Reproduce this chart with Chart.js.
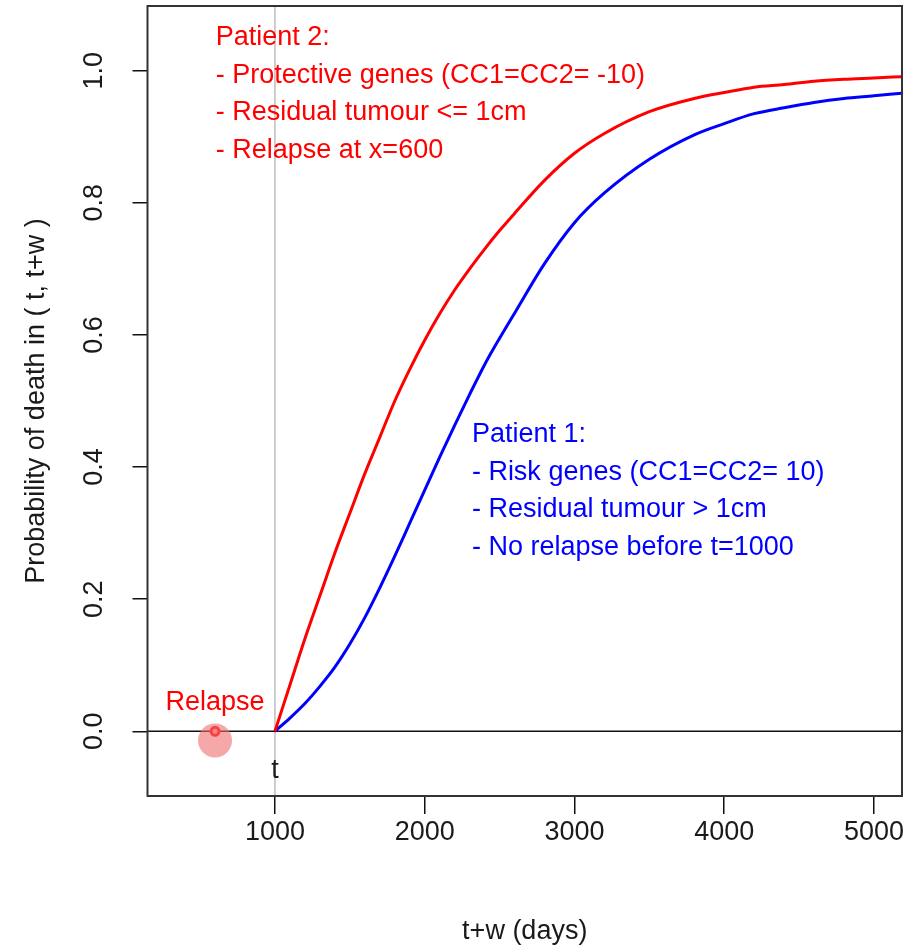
<!DOCTYPE html>
<html>
<head>
<meta charset="utf-8">
<script src="https://cdn.jsdelivr.net/npm/chart.js@4/dist/chart.umd.min.js"></script>
<style>
  html, body { margin: 0; padding: 0; background: #fff; }
  #wrap { width: 918px; height: 948px; }
</style>
</head>
<body>
<div id="wrap"><canvas id="c" width="918" height="948"></canvas></div>
<script>
// values
const days = [1000, 1100, 1200, 1300, 1400, 1500, 1600, 1700, 1800, 1900, 2000, 2100, 2200, 2300,
  2400, 2500, 2600, 2800, 3000, 3200, 3500, 3800, 4000, 4200, 4400, 4600, 4800, 5000, 5187];
const patient2 = [0, 0.07, 0.14, 0.205, 0.27, 0.33, 0.39, 0.445, 0.50, 0.548, 0.592, 0.632, 0.668, 0.70,
  0.73, 0.758, 0.784, 0.834, 0.875, 0.905, 0.938, 0.958, 0.967, 0.975, 0.979, 0.984, 0.987, 0.989, 0.991];
const patient1 = [0, 0.02, 0.042, 0.068, 0.097, 0.132, 0.172, 0.217, 0.265, 0.315, 0.365, 0.415, 0.463, 0.51,
  0.555, 0.595, 0.633, 0.708, 0.77, 0.815, 0.866, 0.903, 0.92, 0.935, 0.944, 0.952, 0.958, 0.962, 0.966];
const relapseDay = 600;
const xTicks = [1000, 2000, 3000, 4000, 5000];
const yTicks = [0, 0.2, 0.4, 0.6, 0.8, 1.0];
const yTickLabels = ['0.0', '0.2', '0.4', '0.6', '0.8', '1.0'];
const patient2Text = ['Patient 2:', '- Protective genes (CC1=CC2= -10)', '- Residual tumour <= 1cm', '- Relapse at x=600'];
const patient1Text = ['Patient 1:', '- Risk genes (CC1=CC2= 10)', '- Residual tumour > 1cm', '- No relapse before t=1000'];

const FONT = '"Liberation Sans", Arial, sans-serif';
const toPts = (xs, ys) => xs.map((x, i) => ({ x: x, y: ys[i] }));

// R style extras: box, reference lines, rotated y labels, text notes
const rExtras = {
    id: 'rExtras',
    beforeDatasetsDraw(chart) {
        const { ctx, chartArea: a, scales: { x, y } } = chart;
        ctx.save();
        ctx.beginPath();
        ctx.rect(a.left, a.top, a.right - a.left, a.bottom - a.top);
        ctx.clip();
        ctx.lineWidth = 1.5;
        ctx.strokeStyle = '#bdbdbd';
        ctx.beginPath();
        ctx.moveTo(x.getPixelForValue(1000), a.top);
        ctx.lineTo(x.getPixelForValue(1000), a.bottom);
        ctx.stroke();
        ctx.strokeStyle = '#111';
        ctx.beginPath();
        ctx.moveTo(a.left, y.getPixelForValue(0));
        ctx.lineTo(a.right, y.getPixelForValue(0));
        ctx.stroke();
        ctx.restore();
    },
    afterDraw(chart) {
        const { ctx, chartArea: a, scales: { x, y } } = chart;
        ctx.save();
        ctx.strokeStyle = '#333';
        ctx.lineWidth = 2;
        ctx.strokeRect(a.left, a.top, a.right - a.left, a.bottom - a.top);

        ctx.font = '27px ' + FONT;
        ctx.fillStyle = '#1a1a1a';
        ctx.textAlign = 'center';
        ctx.textBaseline = 'middle';
        y.ticks.forEach((t, i) => {
            ctx.save();
            ctx.translate(95, y.getPixelForValue(t.value));
            ctx.rotate(-Math.PI / 2);
            ctx.fillText(yTickLabels[i], 0, 0);
            ctx.restore();
        });

        ctx.textBaseline = 'alphabetic';
        ctx.fillText('t', x.getPixelForValue(1000), y.getPixelForValue(-0.071));
        ctx.fillStyle = '#ff0000';
        ctx.fillText('Relapse', x.getPixelForValue(relapseDay), y.getPixelForValue(0.032));

        ctx.textAlign = 'left';
        const step = 0.0571;
        patient2Text.forEach((s, i) => {
            ctx.fillText(s, x.getPixelForValue(605), y.getPixelForValue(1.039 - i * step));
        });
        ctx.fillStyle = '#0000ff';
        patient1Text.forEach((s, i) => {
            ctx.fillText(s, x.getPixelForValue(2315), y.getPixelForValue(0.438 - i * step));
        });
        ctx.restore();
    }
};

new Chart(document.getElementById('c'), {
    type: 'line',
    data: {
        datasets: [
            {
                label: 'Relapse area',
                type: 'scatter',
                data: [{ x: relapseDay, y: -0.014 }],
                pointRadius: 17,
                pointBackgroundColor: 'rgba(240, 110, 110, 0.6)',
                pointBorderWidth: 0,
                pointBorderColor: 'rgba(0,0,0,0)'
            },
            {
                label: 'Relapse',
                type: 'scatter',
                data: [{ x: relapseDay, y: 0 }],
                pointRadius: 4,
                pointBackgroundColor: '#ffb0b0',
                pointBorderColor: '#ff0000',
                pointBorderWidth: 3
            },
            {
                label: 'Patient 2',
                data: toPts(days, patient2),
                borderColor: '#ff0000',
                borderWidth: 3,
                pointRadius: 0,
                cubicInterpolationMode: 'monotone',
                fill: false
            },
            {
                label: 'Patient 1',
                data: toPts(days, patient1),
                borderColor: '#0000ff',
                borderWidth: 3,
                pointRadius: 0,
                cubicInterpolationMode: 'monotone',
                fill: false
            }
        ]
    },
    options: {
        responsive: false,
        animation: false,
        layout: { padding: { top: 6, right: 16, left: 0, bottom: 0 }, autoPadding: false },
        plugins: { legend: { display: false }, tooltip: { enabled: false } },
        scales: {
            x: {
                type: 'linear',
                min: 149,
                max: 5187,
                afterBuildTicks: s => { s.ticks = xTicks.map(v => ({ value: v })); },
                afterFit: s => { s.height = 152; },
                ticks: {
                    callback: v => String(v),
                    color: '#1a1a1a',
                    font: { family: FONT, size: 27 },
                    padding: 2,
                    maxRotation: 0
                },
                grid: { drawOnChartArea: false, drawTicks: true, tickLength: 18, color: '#111', lineWidth: 1.5 },
                border: { display: false },
                title: {
                    display: true,
                    text: 't+w (days)',
                    color: '#1a1a1a',
                    font: { family: FONT, size: 27 },
                    padding: { top: 40, bottom: 0 }
                }
            },
            y: {
                type: 'linear',
                min: -0.098,
                max: 1.098,
                afterBuildTicks: s => { s.ticks = yTicks.map(v => ({ value: v })); },
                afterFit: s => { s.width = 147.5; },
                ticks: { display: false },
                grid: { drawOnChartArea: false, drawTicks: true, tickLength: 15, color: '#111', lineWidth: 1.5 },
                border: { display: false },
                title: {
                    display: true,
                    text: 'Probability of death in ( t, t+w )',
                    color: '#1a1a1a',
                    font: { family: FONT, size: 27 },
                    padding: { top: 20, bottom: 0 }
                }
            }
        }
    },
    plugins: [rExtras]
});
</script>
</body>
</html>
